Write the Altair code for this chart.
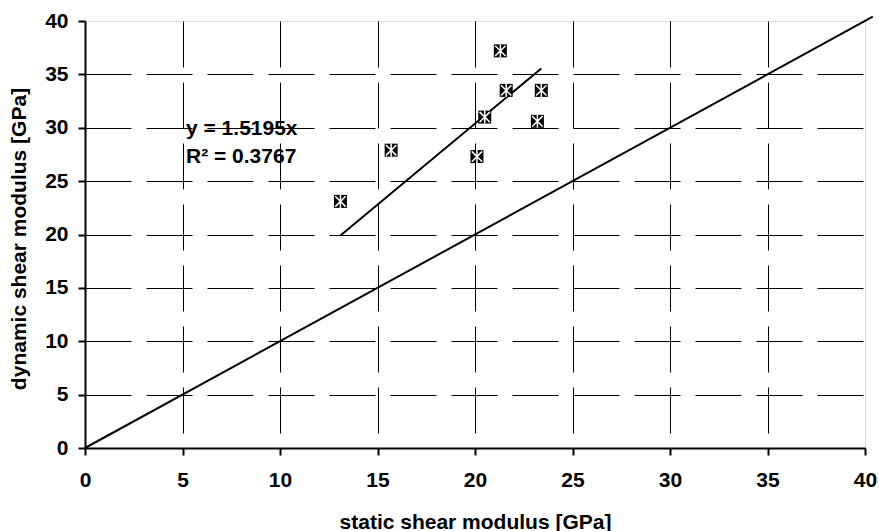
import altair as alt
import pandas as pd

# Measured shear moduli (GPa)
static_gpa = [13.1, 15.7, 20.1, 20.5, 21.3, 21.6, 23.2, 23.4]
dynamic_gpa = [23.1, 27.9, 27.3, 31.0, 37.2, 33.5, 30.6, 33.5]

# Linear fit through the origin
slope = 1.5195
r_squared = 0.3767
fit_x = [min(static_gpa), max(static_gpa)]

# 1:1 reference line
identity_x = [0, 40.4]

tick_values = [0, 5, 10, 15, 20, 25, 30, 35, 40]

FONT = "Liberation Sans"
W, H = 780, 427

points = pd.DataFrame({"static": static_gpa, "dynamic": dynamic_gpa})
fit = pd.DataFrame({"static": fit_x, "dynamic": [slope * v for v in fit_x]})
ident = pd.DataFrame({"static": identity_x, "dynamic": identity_x})
eq_text = pd.DataFrame({"text": [f"y = {slope}x"]})
r2_text = pd.DataFrame({"text": [f"R\u00b2 = {r_squared}"]})

hide_edge = {"condition": {"test": "datum.value >= 40", "value": "transparent"},
             "value": "black"}

x_scale = alt.Scale(domain=[0, 40], nice=False, zero=False)
y_scale = alt.Scale(domain=[0, 40], nice=False, zero=False)

x_axis = alt.Axis(
    values=tick_values, title="static shear modulus [GPa]",
    grid=True, gridColor=hide_edge, gridWidth=1, gridDash=[46, 15],
    domainColor="black", domainWidth=2,
    tickColor="black", tickWidth=2, tickSize=7,
    labelFont=FONT, labelFontSize=21, labelFontWeight="bold", labelColor="black",
    labelPadding=14, labelFlush=False,
    titleFont=FONT, titleFontSize=21, titleFontWeight="bold", titleColor="black",
    titleX=W / 2, titleY=74, titleBaseline="middle", titleAlign="center",
)
y_axis = alt.Axis(
    values=tick_values, title="dynamic shear modulus [GPa]",
    grid=True, gridColor=hide_edge, gridWidth=1, gridDash=[46, 15],
    domainColor="black", domainWidth=2,
    tickColor="black", tickWidth=2, tickSize=7,
    labelFont=FONT, labelFontSize=21, labelFontWeight="bold", labelColor="black",
    labelPadding=10, labelFlush=False,
    titleFont=FONT, titleFontSize=21, titleFontWeight="bold", titleColor="black",
    titleX=-66, titleY=H / 2 + 4, titleBaseline="middle", titleAlign="center",
    titleAngle=-90,
)

base_x = alt.X("static:Q", scale=x_scale, axis=x_axis)
base_y = alt.Y("dynamic:Q", scale=y_scale, axis=y_axis)

identity_line = alt.Chart(ident).mark_line(color="black", strokeWidth=2).encode(
    x=base_x, y=base_y)
fit_line = alt.Chart(fit).mark_line(color="black", strokeWidth=2).encode(
    x="static:Q", y="dynamic:Q")

squares = alt.Chart(points).mark_square(
    color="black", filled=True, size=169, opacity=1).encode(
    x="static:Q", y="dynamic:Q")
crosses = alt.Chart(points).mark_point(
    shape="M-0.8,-0.8L0.8,0.8M0.8,-0.8L-0.8,0.8M0,-1L0,1",
    stroke="white", strokeWidth=1.5, size=169, filled=False, opacity=1).encode(
    x="static:Q", y="dynamic:Q")

text_style = dict(font=FONT, fontSize=21, fontWeight="bold", color="black",
                  align="left", baseline="alphabetic")
eq_label = alt.Chart(eq_text).mark_text(**text_style).encode(
    x=alt.value(101), y=alt.value(114), text="text:N")
r2_label = alt.Chart(r2_text).mark_text(**text_style).encode(
    x=alt.value(101), y=alt.value(142), text="text:N")

chart = alt.layer(identity_line, fit_line, squares, crosses, eq_label, r2_label).properties(
    width=W, height=H,
    autosize=alt.AutoSizeParams(type="none"),
    padding={"left": 85, "top": 21, "right": 14, "bottom": 83},
).configure_view(stroke="#808080", strokeWidth=1.5).configure(background="white")

chart.save("out.html", embed_options={"renderer": "svg", "actions": False})
